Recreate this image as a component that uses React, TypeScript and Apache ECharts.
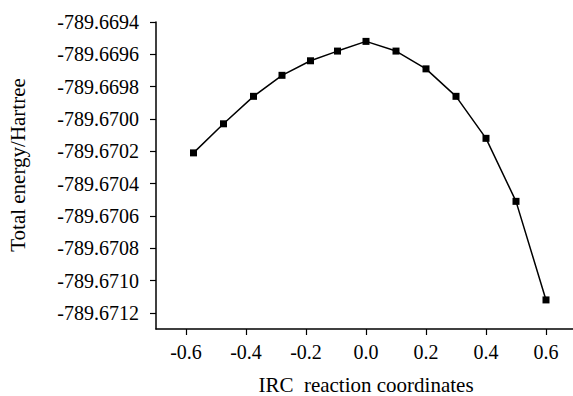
import React, { useEffect, useRef } from "react";
import * as echarts from "echarts";

const ircCoords = [-0.575, -0.475, -0.375, -0.28, -0.185, -0.095, 0.0, 0.1, 0.2, 0.3, 0.4, 0.5, 0.6];
const totalEnergy = [
  -789.67021, -789.67003, -789.66986, -789.66973, -789.66964, -789.66958, -789.66952,
  -789.66958, -789.66969, -789.66986, -789.67012, -789.67051, -789.67112,
];
const yTicks = [
  -789.6694, -789.6696, -789.6698, -789.67, -789.6702, -789.6704, -789.6706, -789.6708, -789.671, -789.6712,
];
const xTicks = [-0.6, -0.4, -0.2, 0.0, 0.2, 0.4, 0.6];

const FONT = "Liberation Serif";

export default function App() {
  const ref = useRef<HTMLDivElement>(null);
  useEffect(() => {
    if (!ref.current) return;
    const chart = echarts.init(ref.current, null, { renderer: "svg" });
    chart.setOption({
      animation: false,
      backgroundColor: "#ffffff",
      textStyle: { fontFamily: FONT, color: "#000" },
      grid: { left: 156, top: 22, right: -3, bottom: 67, containLabel: false, outerBoundsMode: "none" },
      xAxis: {
        type: "value",
        min: -0.7,
        max: 0.7,
        name: "IRC\u00a0 reaction coordinates",
        nameLocation: "middle",
        nameGap: 45,
        nameTextStyle: { fontFamily: FONT, fontSize: 21, color: "#000" },
        axisLine: { show: true, onZero: false, lineStyle: { color: "#000", width: 1.5 } },
        axisTick: { show: true, inside: false, length: 6, customValues: xTicks, lineStyle: { color: "#000", width: 1.2 } },
        axisLabel: {
          customValues: xTicks,
          margin: 13,
          fontFamily: FONT,
          fontSize: 20,
          color: "#000",
          formatter: (v: number) => v.toFixed(1),
        },
        splitLine: { show: false },
      },
      yAxis: {
        type: "value",
        min: -789.6713,
        max: -789.6694,
        axisLine: { show: true, onZero: false, lineStyle: { color: "#000", width: 1.5 } },
        axisTick: { show: true, inside: false, length: 6, customValues: yTicks, lineStyle: { color: "#000", width: 1.2 } },
        axisLabel: {
          customValues: yTicks,
          margin: 17,
          fontFamily: FONT,
          fontSize: 20,
          color: "#000",
          formatter: (v: number) => v.toFixed(4),
        },
        splitLine: { show: false },
      },
      graphic: [
        {
          type: "text",
          x: 18,
          y: 165,
          rotation: Math.PI / 2,
          style: {
            text: "Total energy/Hartree",
            fontFamily: FONT,
            fontSize: 21,
            fill: "#000",
            align: "center",
            verticalAlign: "middle",
          },
        },
      ],
      series: [
        {
          type: "line",
          data: ircCoords.map((x, i) => [x, totalEnergy[i]]),
          symbol: "rect",
          symbolSize: 7,
          showSymbol: true,
          lineStyle: { color: "#000", width: 1.5 },
          itemStyle: { color: "#000" },
        },
      ],
    });
    return () => chart.dispose();
  }, []);
  return (
    <div
      ref={ref}
      style={{ position: "absolute", left: 0, top: 0, width: 573, height: 396, background: "#fff" }}
    />
  );
}
